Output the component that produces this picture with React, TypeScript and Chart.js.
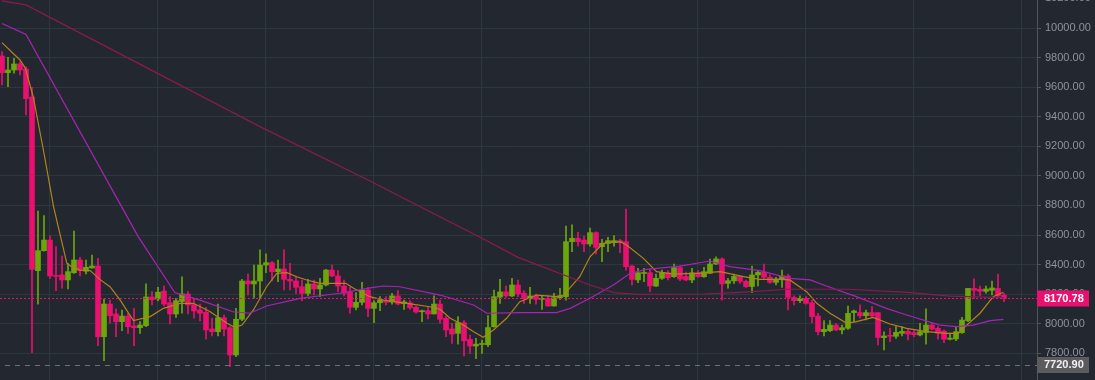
import React, { useEffect, useRef } from 'react';
import { Chart, registerables } from 'chart.js';

Chart.register(...registerables);

// OHLC candles, one per index 0..167
const opens = [
  9811, 9698, 9716, 9757, 9723, 9533, 8359, 8494, 8566, 8326,
  8330, 8296, 8345, 8431, 8355, 8377, 8390, 7912, 8133, 8066,
  8014, 8052, 7985, 7973, 7987, 8181, 8167, 8221, 8142, 8066,
  8150, 8201, 8130, 8093, 8077, 7965, 7946, 8041, 7973, 7789,
  8030, 8289, 8269, 8289, 8397, 8413, 8352, 8370, 8300, 8289,
  8250, 8205, 8269, 8235, 8262, 8363, 8323, 8255, 8217, 8111,
  8145, 8228, 8104, 8142, 8156, 8147, 8188, 8136, 8142, 8111,
  8081, 8088, 8066, 8133, 8037, 7965, 7935, 8007, 7894, 7849,
  7860, 7858, 7980, 8180, 8215, 8188, 8262, 8206, 8169, 8188,
  8165, 8170, 8120, 8176, 8183, 8555, 8578, 8566, 8539, 8616,
  8521, 8544, 8548, 8562, 8555, 8390, 8296, 8340, 8345, 8255,
  8307, 8345, 8318, 8379, 8320, 8296, 8345, 8318, 8341, 8404,
  8438, 8273, 8290, 8320, 8287, 8252, 8330, 8348, 8314, 8280,
  8298, 8323, 8178, 8156, 8172, 8142, 8052, 7946, 7953, 7991,
  7958, 7969, 8075, 8075, 8054, 8075, 8075, 7906, 7922, 7915,
  7935, 7948, 7940, 7924, 7940, 7991, 7969, 7950, 7895, 7897,
  7940, 8021, 8239, 8233, 8219, 8226, 8239, 8194,
];
const highs = [
  9840, 9802, 9795, 9772, 9738, 9599, 8762, 8731, 8595, 8521,
  8458, 8409, 8627, 8449, 8431, 8465, 8442, 8167, 8160, 8100,
  8093, 8070, 8104, 8014, 8269, 8217, 8246, 8255, 8183, 8172,
  8318, 8217, 8172, 8133, 8111, 8037, 8133, 8059, 7980, 8104,
  8300, 8336, 8397, 8499, 8472, 8420, 8431, 8499, 8409, 8323,
  8296, 8300, 8296, 8307, 8368, 8397, 8359, 8296, 8246, 8210,
  8280, 8246, 8156, 8183, 8183, 8206, 8224, 8160, 8156, 8120,
  8093, 8111, 8188, 8160, 8052, 8003, 8048, 8021, 7924, 7901,
  7889, 8055, 8228, 8300, 8255, 8307, 8296, 8224, 8246, 8201,
  8188, 8188, 8206, 8240, 8661, 8668, 8618, 8593, 8647, 8622,
  8571, 8584, 8596, 8571, 8776, 8395, 8375, 8375, 8368, 8336,
  8363, 8359, 8404, 8390, 8350, 8375, 8359, 8382, 8438, 8453,
  8445, 8307, 8336, 8323, 8296, 8390, 8359, 8404, 8330, 8314,
  8363, 8334, 8188, 8188, 8183, 8160, 8070, 8021, 8021, 8003,
  7991, 8120, 8093, 8127, 8093, 8116, 8075, 7946, 7969, 7980,
  7980, 7962, 7953, 8003, 8100, 8003, 7980, 7958, 7937, 7980,
  8043, 8240, 8303, 8255, 8255, 8289, 8336, 8206,
];
const lows = [
  9615, 9603, 9694, 9682, 9412, 7804, 8133, 8490, 8307, 8223,
  8240, 8235, 8340, 8323, 8336, 8375, 7851, 7750, 8003, 7912,
  7953, 7935, 7851, 7935, 7980, 8127, 8154, 8120, 7998, 8043,
  8071, 8066, 8037, 8019, 7895, 7917, 7917, 7917, 7709, 7777,
  8020, 8194, 8172, 8172, 8345, 8290, 8284, 8228, 8228, 8205,
  8156, 8188, 8194, 8183, 8255, 8318, 8217, 8188, 8071, 8093,
  8127, 8048, 8007, 8089, 8127, 8133, 8127, 8097, 8097, 8071,
  8014, 8032, 8066, 8003, 7912, 7867, 7862, 7782, 7800, 7763,
  7800, 7845, 7976, 8138, 8178, 8183, 8183, 8138, 8138, 8133,
  8097, 8118, 8118, 8165, 8160, 8487, 8525, 8487, 8525, 8472,
  8420, 8487, 8525, 8480, 8363, 8262, 8277, 8284, 8217, 8250,
  8300, 8296, 8314, 8291, 8290, 8277, 8314, 8314, 8340, 8400,
  8160, 8240, 8273, 8273, 8246, 8210, 8255, 8307, 8273, 8262,
  8246, 8093, 8127, 8142, 8133, 8007, 7924, 7917, 7946, 7953,
  7931, 7962, 8014, 8037, 8025, 8043, 7856, 7822, 7878, 7901,
  7917, 7890, 7912, 7917, 7862, 7958, 7895, 7872, 7890, 7885,
  7935, 8014, 8172, 8190, 8206, 8194, 8178, 8149,
];
const closes = [
  9698, 9716, 9757, 9716, 9522, 8368, 8494, 8566, 8323, 8320,
  8296, 8352, 8431, 8359, 8382, 8390, 7912, 8133, 8054, 8014,
  8052, 7980, 7973, 7991, 8181, 8162, 8213, 8133, 8066, 8156,
  8201, 8127, 8086, 8071, 7958, 7946, 8041, 7964, 7789, 8030,
  8289, 8269, 8289, 8397, 8413, 8352, 8370, 8300, 8289, 8246,
  8205, 8269, 8235, 8262, 8363, 8323, 8255, 8206, 8111, 8145,
  8228, 8104, 8142, 8160, 8145, 8188, 8133, 8148, 8108, 8079,
  8088, 8066, 8133, 8030, 7958, 7930, 8007, 7885, 7849, 7862,
  7865, 7974, 8183, 8215, 8188, 8262, 8201, 8169, 8188, 8165,
  8170, 8120, 8176, 8188, 8555, 8578, 8555, 8539, 8616, 8516,
  8544, 8562, 8562, 8548, 8386, 8300, 8345, 8345, 8255, 8307,
  8345, 8311, 8379, 8302, 8296, 8345, 8318, 8352, 8404, 8438,
  8269, 8291, 8320, 8287, 8250, 8330, 8348, 8314, 8280, 8302,
  8323, 8178, 8156, 8172, 8138, 8048, 7946, 7962, 7991, 7958,
  7973, 8070, 8086, 8054, 8075, 8054, 7907, 7917, 7915, 7942,
  7948, 7930, 7926, 7946, 7991, 7964, 7935, 7895, 7903, 7946,
  8025, 8239, 8226, 8219, 8235, 8242, 8188, 8170.78,
];

// Moving average lines, read as [candle index, value]
const maShort = [
  [0, 9901], [3, 9784], [3.9, 9727], [5.2, 9535], [6.9, 9175], [8.6, 8791], [10.8, 8409], [11.6, 8386],
  [13, 8363], [14.7, 8359], [16.3, 8300], [18, 8250], [19.7, 8160], [21.9, 8021], [24.7, 8048], [26.9, 8104],
  [29.7, 8138], [31.9, 8138], [34.7, 8081], [37.5, 8003], [38.8, 7976], [40, 7991], [41.9, 8093], [44.1, 8250],
  [45.8, 8341], [47.5, 8345], [49.1, 8318], [50.8, 8296], [53, 8273], [57.3, 8273], [58.6, 8240], [61.3, 8183],
  [63.6, 8160], [67.5, 8138], [71.3, 8115], [73, 8098], [74.7, 8037], [76.9, 7991], [78.6, 7946], [80.2, 7908],
  [81.9, 7958], [84.1, 8037], [86.3, 8149], [89.1, 8194], [92.4, 8183], [93.6, 8194], [96.3, 8318], [98, 8453],
  [100.2, 8544], [103, 8555], [104.1, 8532], [106.9, 8442], [109.1, 8352], [111.9, 8336], [115.8, 8341], [119.7, 8352],
  [123.6, 8318], [126.3, 8300], [129.7, 8300], [131.3, 8296], [134.1, 8217], [135.8, 8138], [138, 8071], [140.8, 8003],
  [142.4, 8014], [145.2, 8043], [148, 7998], [150.8, 7969], [154.1, 7946], [157.4, 7935], [159.4, 7935], [160.2, 7969],
  [163, 8071], [165.2, 8183], [166.9, 8213],
];
const maMid = [
  [0, 10030], [4, 9957], [22.7, 8589], [28.8, 8211], [33, 8160], [38.5, 8081], [41.3, 8071], [44.1, 8120],
  [49.7, 8172], [56.3, 8206], [61.9, 8246], [63.5, 8255], [66.3, 8250], [73, 8194], [78.6, 8127], [80.8, 8071],
  [86.3, 8075], [92.4, 8075], [94.7, 8104], [98, 8172], [101.9, 8262], [104.7, 8341], [107.4, 8368], [113, 8390],
  [118, 8424], [121.3, 8386], [126.3, 8359], [131.3, 8307], [134.7, 8296], [137.4, 8255], [142.4, 8183], [147.4, 8104],
  [150.8, 8059], [156.3, 7991], [159.1, 7980], [161.9, 7991], [164.7, 8021], [166.9, 8030],
];
const maLong = [
  [0, 10183], [4, 10156], [43, 9333], [61, 8972], [80, 8578], [86, 8449], [98, 8262], [102, 8210],
  [106, 8198], [117, 8201], [123, 8212], [131, 8233], [141, 8233], [151, 8212], [158, 8187], [167, 8176],
];

const yTicks = [7800, 8000, 8200, 8400, 8600, 8800, 9000, 9200, 9400, 9600, 9800, 10000, 10200];
const xGridIdx = [8, 26, 44, 62, 80, 98, 116, 134, 152, 170];
const lastPrice = 8170.78;
const lowMark = 7720.9;

const BG = '#232830';
const GRID = '#2c373e';
const UP = '#6ca60c';
const DOWN = '#e91070';

export default function App() {
  const ref = useRef<HTMLCanvasElement>(null);

  useEffect(() => {
    document.body.style.margin = '0';
    const canvas = ref.current!;
    const colors = closes.map((c, i) => (c >= opens[i] ? UP : DOWN));

    const overlay = {
      id: 'overlay',
      beforeDraw(chart: any) {
        const { ctx } = chart;
        ctx.save();
        ctx.fillStyle = BG;
        ctx.fillRect(0, 0, chart.width, chart.height);
        ctx.restore();
      },
      afterDatasetsDraw(chart: any) {
        const { ctx, chartArea } = chart;
        const y = chart.scales.y;
        ctx.save();
        const yl = Math.round(y.getPixelForValue(lowMark)) + 0.5;
        ctx.strokeStyle = '#6b7079';
        ctx.lineWidth = 1;
        ctx.setLineDash([5, 5]);
        ctx.beginPath();
        ctx.moveTo(5, yl);
        ctx.lineTo(chartArea.right, yl);
        ctx.stroke();
        const yp = Math.round(y.getPixelForValue(lastPrice)) + 0.5;
        ctx.strokeStyle = DOWN;
        ctx.setLineDash([2, 2]);
        ctx.beginPath();
        ctx.moveTo(0, yp);
        ctx.lineTo(chartArea.right, yp);
        ctx.stroke();
        ctx.restore();
      },
      afterDraw(chart: any) {
        const { ctx, chartArea } = chart;
        const y = chart.scales.y;
        ctx.save();
        ctx.font = 'bold 11px "Liberation Sans", Arial, sans-serif';
        ctx.textBaseline = 'middle';
        const yp = y.getPixelForValue(lastPrice);
        ctx.fillStyle = DOWN;
        ctx.fillRect(chartArea.right, yp - 8, 52, 16);
        ctx.fillStyle = '#ffffff';
        ctx.fillText(lastPrice.toFixed(2), chartArea.right + 7, yp);
        const yl = y.getPixelForValue(lowMark);
        ctx.fillStyle = '#5c5c5e';
        ctx.fillRect(chartArea.right, yl - 8, 52, 16);
        ctx.fillStyle = '#f2f2f2';
        ctx.fillText(lowMark.toFixed(2), chartArea.right + 7, yl);
        ctx.restore();
      },
    };

    const lineDs = (pts: number[][], color: string) => ({
      type: 'line' as const,
      data: pts.map(([x, v]) => ({ x, y: v })),
      borderColor: color,
      borderWidth: 1.2,
      pointRadius: 0,
      tension: 0,
      fill: false,
      order: 0,
    });

    const chart = new Chart(canvas, {
      type: 'bar',
      data: {
        datasets: [
          lineDs(maLong, '#8a1a52'),
          lineDs(maMid, '#a624b4'),
          lineDs(maShort, '#b3821e'),
          {
            type: 'bar',
            data: opens.map((o, i) => ({ x: i, y: [o, closes[i]] })) as any,
            backgroundColor: colors,
            borderWidth: 0,
            barThickness: 5,
            minBarLength: 1,
            grouped: false,
            order: 1,
          },
          {
            type: 'bar',
            data: lows.map((l, i) => ({ x: i, y: [l, highs[i]] })) as any,
            backgroundColor: colors,
            borderWidth: 0,
            barThickness: 1,
            grouped: false,
            order: 2,
          },
        ] as any,
      },
      options: {
        responsive: false,
        animation: false,
        events: [],
        layout: { padding: 0 },
        plugins: { legend: { display: false }, tooltip: { enabled: false } },
        scales: {
          x: {
            type: 'linear',
            min: -0.333,
            max: 172.5,
            offset: false,
            display: true,
            border: { display: false },
            grid: { color: GRID, drawTicks: false, offset: false },
            ticks: { display: false },
            afterBuildTicks: (axis: any) => {
              axis.ticks = xGridIdx.map((v) => ({ value: v }));
            },
          },
          y: {
            type: 'linear',
            position: 'right',
            min: 7619.4,
            max: 10189.4,
            border: { display: true, color: '#50555d' },
            grid: { color: GRID, tickColor: '#50555d', tickLength: 4 },
            ticks: {
              color: '#8e9299',
              padding: 4,
              font: { family: '"Liberation Sans", Arial, sans-serif', size: 11 },
              callback: (v: any) => Number(v).toFixed(2),
            },
            afterBuildTicks: (axis: any) => {
              axis.ticks = yTicks.map((v) => ({ value: v }));
            },
            afterFit: (axis: any) => {
              axis.width = 58;
              axis.paddingTop = 0;
              axis.paddingBottom = 0;
            },
          },
        },
      },
      plugins: [overlay],
    });

    return () => chart.destroy();
  }, []);

  return (
    <div style={{ width: 1095, height: 380, background: BG }}>
      <canvas ref={ref} width={1095} height={380} style={{ display: 'block' }} />
    </div>
  );
}
